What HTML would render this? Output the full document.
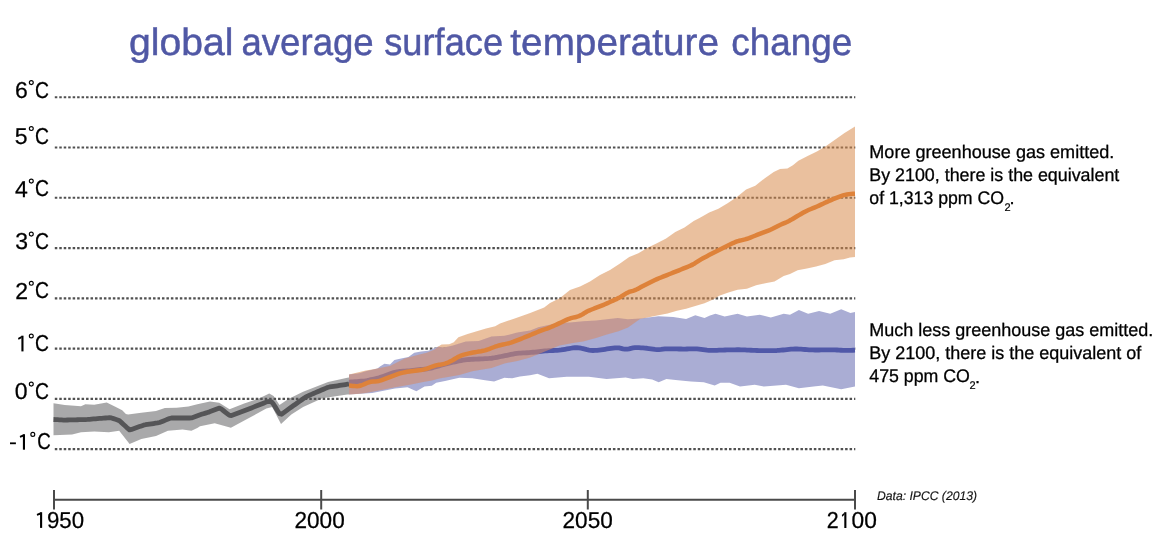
<!DOCTYPE html>
<html><head><meta charset="utf-8"><style>
html,body{margin:0;padding:0;background:#fff;}
body{width:1160px;height:543px;overflow:hidden;position:relative;}
svg{position:absolute;left:0;top:0;will-change:transform;}
text{font-family:"Liberation Sans",sans-serif;text-rendering:geometricPrecision;}
</style></head><body>
<svg width="1160" height="543" viewBox="0 0 1160 543">
<text x="128.95" y="54.8" font-size="38" fill="#5058a5" stroke="#5058a5" stroke-width="0.45" textLength="104.54" lengthAdjust="spacingAndGlyphs">global</text>
<text x="241.46" y="54.8" font-size="38" fill="#5058a5" stroke="#5058a5" stroke-width="0.45" textLength="132.27" lengthAdjust="spacingAndGlyphs">average</text>
<text x="384.25" y="54.8" font-size="38" fill="#5058a5" stroke="#5058a5" stroke-width="0.45" textLength="118.8" lengthAdjust="spacingAndGlyphs">surface</text>
<text x="510.39" y="54.8" font-size="38" fill="#5058a5" stroke="#5058a5" stroke-width="0.45" textLength="208.58" lengthAdjust="spacingAndGlyphs">temperature</text>
<text x="731.34" y="54.8" font-size="38" fill="#5058a5" stroke="#5058a5" stroke-width="0.45" textLength="120.98" lengthAdjust="spacingAndGlyphs">change</text>
<line x1="54.8" y1="97.30" x2="855.3" y2="97.30" stroke="#505050" stroke-width="2.1" stroke-dasharray="2.5 1.965"/>
<line x1="54.8" y1="147.56" x2="855.3" y2="147.56" stroke="#505050" stroke-width="2.1" stroke-dasharray="2.5 1.965"/>
<line x1="54.8" y1="197.82" x2="855.3" y2="197.82" stroke="#505050" stroke-width="2.1" stroke-dasharray="2.5 1.965"/>
<line x1="54.8" y1="248.08" x2="855.3" y2="248.08" stroke="#505050" stroke-width="2.1" stroke-dasharray="2.5 1.965"/>
<line x1="54.8" y1="298.34" x2="855.3" y2="298.34" stroke="#505050" stroke-width="2.1" stroke-dasharray="2.5 1.965"/>
<line x1="54.8" y1="348.60" x2="855.3" y2="348.60" stroke="#505050" stroke-width="2.1" stroke-dasharray="2.5 1.965"/>
<line x1="54.8" y1="398.86" x2="855.3" y2="398.86" stroke="#505050" stroke-width="2.1" stroke-dasharray="2.5 1.965"/>
<line x1="54.8" y1="449.12" x2="855.3" y2="449.12" stroke="#505050" stroke-width="2.1" stroke-dasharray="2.5 1.965"/>
<text x="14.95" y="97.75" font-size="23" fill="#000" stroke="#000" stroke-width="0.25">6</text>
<circle cx="31.3" cy="82.6" r="1.95" fill="none" stroke="#000" stroke-width="1.15"/>
<text x="35.05" y="97.75" font-size="23" fill="#000" stroke="#000" stroke-width="0.25" textLength="13.98" lengthAdjust="spacingAndGlyphs">C</text>
<text x="14.80" y="143.90" font-size="23" fill="#000" stroke="#000" stroke-width="0.25">5</text>
<circle cx="31.3" cy="128.5" r="1.95" fill="none" stroke="#000" stroke-width="1.15"/>
<text x="35.05" y="143.65" font-size="23" fill="#000" stroke="#000" stroke-width="0.25" textLength="13.98" lengthAdjust="spacingAndGlyphs">C</text>
<text x="15.00" y="196.50" font-size="23" fill="#000" stroke="#000" stroke-width="0.25">4</text>
<circle cx="31.3" cy="181.1" r="1.95" fill="none" stroke="#000" stroke-width="1.15"/>
<text x="35.05" y="196.25" font-size="23" fill="#000" stroke="#000" stroke-width="0.25" textLength="13.98" lengthAdjust="spacingAndGlyphs">C</text>
<text x="15.20" y="249.25" font-size="23" fill="#000" stroke="#000" stroke-width="0.25">3</text>
<circle cx="31.3" cy="234.1" r="1.95" fill="none" stroke="#000" stroke-width="1.15"/>
<text x="35.05" y="249.25" font-size="23" fill="#000" stroke="#000" stroke-width="0.25" textLength="13.98" lengthAdjust="spacingAndGlyphs">C</text>
<text x="15.15" y="298.70" font-size="23" fill="#000" stroke="#000" stroke-width="0.25">2</text>
<circle cx="31.3" cy="283.3" r="1.95" fill="none" stroke="#000" stroke-width="1.15"/>
<text x="35.05" y="298.45" font-size="23" fill="#000" stroke="#000" stroke-width="0.25" textLength="13.98" lengthAdjust="spacingAndGlyphs">C</text>
<text x="14.80" y="399.25" font-size="23" fill="#000" stroke="#000" stroke-width="0.25">0</text>
<circle cx="31.3" cy="384.1" r="1.95" fill="none" stroke="#000" stroke-width="1.15"/>
<text x="35.05" y="399.25" font-size="23" fill="#000" stroke="#000" stroke-width="0.25" textLength="13.98" lengthAdjust="spacingAndGlyphs">C</text>
<rect x="21.40" y="335.70" width="2.1" height="15.70" fill="#000"/><polygon points="22.00,335.70 18.00,337.90 18.50,339.70 21.50,338.20" fill="#000"/>
<circle cx="31.3" cy="336.0" r="1.95" fill="none" stroke="#000" stroke-width="1.15"/>
<text x="35.05" y="351.15" font-size="23" fill="#000" stroke="#000" stroke-width="0.25" textLength="13.98" lengthAdjust="spacingAndGlyphs">C</text>
<rect x="10" y="442.4" width="5.9" height="1.8" fill="#000"/>
<rect x="22.90" y="434.20" width="2.1" height="15.50" fill="#000"/><polygon points="23.50,434.20 19.70,435.90 20.20,437.70 23.00,436.70" fill="#000"/>
<circle cx="32.8" cy="434.4" r="1.95" fill="none" stroke="#000" stroke-width="1.15"/>
<text x="37.28" y="449.45" font-size="23" fill="#000" stroke="#000" stroke-width="0.25" textLength="13.5" lengthAdjust="spacingAndGlyphs">C</text>
<polygon points="53.5,403.3 64.7,405.0 81.0,406.2 85.4,404.3 94.2,404.7 106.7,402.4 114.8,406.5 122.2,410.2 125.9,413.9 128.1,414.6 141.3,412.7 156.0,410.9 164.9,408.0 176.7,407.7 188.5,406.5 197.3,404.3 210.0,401.5 219.2,402.7 229.5,409.3 244.2,403.4 258.9,398.6 269.2,393.6 273.6,396.1 279.5,405.0 288.4,399.0 303.1,391.7 328.1,382.1 347.3,377.7 349.0,377.5 349.0,394.4 347.3,394.6 322.3,398.3 303.1,407.1 291.3,414.5 281.0,424.1 272.2,407.1 266.3,408.6 247.1,418.9 230.9,427.8 214.7,423.3 200.0,426.3 197.3,427.9 191.4,430.8 182.6,429.4 167.9,430.8 156.0,436.0 141.3,438.9 129.6,444.1 119.2,430.8 108.9,432.3 94.2,431.6 81.0,432.3 72.1,434.5 53.5,435.2" fill="#545456" fill-opacity="0.5"/>
<polyline points="53.5,419.50 55.5,419.61 57.5,419.71 59.5,419.82 61.5,419.93 63.5,420.03 65.5,420.07 67.5,420.02 69.5,419.97 71.5,419.92 73.5,419.86 75.5,419.81 77.5,419.75 79.5,419.70 81.5,419.64 83.5,419.59 85.5,419.53 87.5,419.44 89.5,419.28 91.5,419.12 93.5,418.96 95.5,418.80 97.5,418.64 99.5,418.48 101.5,418.32 103.5,418.16 105.5,417.99 107.5,417.83 109.5,417.69 111.5,417.98 113.5,418.62 115.5,419.28 117.5,419.95 119.5,420.82 121.5,422.62 123.5,424.47 125.5,426.32 127.5,428.16 129.5,429.91 131.5,429.42 133.5,428.72 135.5,428.01 137.5,427.31 139.5,426.60 141.5,425.89 143.5,425.19 145.5,424.73 147.5,424.42 149.5,424.12 151.5,423.82 153.5,423.52 155.5,423.22 157.5,422.92 159.5,422.49 161.5,421.70 163.5,420.91 165.5,420.11 167.5,419.31 169.5,418.53 171.5,418.02 173.5,418.00 175.5,418.00 177.5,418.00 179.5,418.00 181.5,418.00 183.5,418.00 185.5,418.00 187.5,418.00 189.5,418.00 191.5,417.93 193.5,417.22 195.5,416.47 197.5,415.73 199.5,414.99 201.5,414.34 203.5,413.72 205.5,413.09 207.5,412.47 209.5,411.85 211.5,411.12 213.5,410.36 215.5,409.59 217.5,408.82 219.5,408.13 221.5,409.18 223.5,410.73 225.5,412.30 227.5,413.88 229.5,415.39 231.5,415.48 233.5,414.77 235.5,414.03 237.5,413.29 239.5,412.55 241.5,411.80 243.5,411.06 245.5,410.29 247.5,409.50 249.5,408.71 251.5,407.92 253.5,407.13 255.5,406.34 257.5,405.55 259.5,404.76 261.5,403.97 263.5,403.18 265.5,402.39 267.5,401.62 269.5,401.44 271.5,401.92 273.5,404.16 275.5,407.38 277.5,410.64 279.5,413.78 281.5,414.24 283.5,412.84 285.5,411.37 287.5,409.90 289.5,408.43 291.5,406.96 293.5,405.56 295.5,404.16 297.5,402.76 299.5,401.35 301.5,399.95 303.5,398.55 305.5,397.17 307.5,396.15 309.5,395.28 311.5,394.41 313.5,393.54 315.5,392.67 317.5,391.80 319.5,390.94 321.5,390.07 323.5,389.20 325.5,388.33 327.5,387.48 329.5,386.99 331.5,386.68 333.5,386.37 335.5,386.07 337.5,385.76 339.5,385.45 341.5,385.15 343.5,384.84 345.5,384.54 347.5,384.23 349.0,384.01" fill="none" stroke="#555557" stroke-width="4.8" stroke-linejoin="round"/>
<polygon points="349.0,374.4 359.3,373.2 365.8,371.2 377.4,368.6 380.0,366.5 384.4,363.8 390.0,364.5 394.4,360.1 401.1,358.6 408.4,357.1 414.3,352.7 421.0,351.6 428.3,350.8 434.2,348.3 437.9,346.8 444.0,347.5 452.9,345.5 465.8,341.6 478.7,341.0 491.5,336.4 504.4,335.8 517.3,332.6 530.2,330.6 538.3,327.2 548.6,325.0 558.9,322.8 570.0,322.5 583.0,321.2 596.0,320.6 617.7,318.0 628.0,319.3 640.0,318.5 658.4,316.2 673.2,317.1 686.1,319.0 695.3,315.3 704.5,318.1 710.0,315.6 715.5,313.7 724.7,316.5 737.6,313.7 746.9,316.5 759.8,314.7 770.8,317.4 783.7,313.7 790.0,314.7 798.9,310.1 808.1,313.8 819.1,311.0 830.2,313.8 841.2,309.2 850.4,312.9 855.0,312.0 855.0,386.5 841.2,389.3 822.8,385.6 813.6,386.5 798.9,388.3 786.0,384.7 763.9,386.5 754.7,384.7 740.0,386.5 729.6,382.8 720.5,382.8 714.7,385.4 703.8,382.2 690.9,381.6 678.0,380.3 666.4,379.0 658.7,382.2 652.2,379.6 643.2,378.3 632.9,379.0 625.7,377.4 606.6,378.9 588.9,376.7 566.8,376.7 549.1,378.2 537.4,373.8 530.0,375.2 519.9,376.4 512.2,378.3 504.4,377.7 494.1,381.5 485.1,380.3 472.2,378.3 459.3,377.7 445.0,381.0 436.2,382.8 431.8,385.8 424.5,386.5 416.4,391.3 407.5,387.2 395.0,388.5 372.2,393.1 349.0,394.4" fill="#aaadd4"/>
<polyline points="349.0,382.11 351.0,382.01 353.0,381.88 355.0,381.73 357.0,381.58 359.0,381.42 361.0,381.26 363.0,381.07 365.0,380.83 367.0,380.51 369.0,380.12 371.0,379.68 373.0,379.22 375.0,378.75 377.0,378.26 379.0,377.73 381.0,377.13 383.0,376.46 385.0,375.75 387.0,375.03 389.0,374.29 391.0,373.57 393.0,372.88 395.0,372.27 397.0,371.81 399.0,371.51 401.0,371.33 403.0,371.21 405.0,371.10 407.0,370.97 409.0,370.80 411.0,370.61 413.0,370.39 415.0,370.17 417.0,369.95 419.0,369.73 421.0,369.50 423.0,369.28 425.0,369.05 427.0,368.79 429.0,368.46 431.0,368.05 433.0,367.55 435.0,366.99 437.0,366.41 439.0,365.83 441.0,365.28 443.0,364.74 445.0,364.22 447.0,363.71 449.0,363.20 451.0,362.71 453.0,362.24 455.0,361.80 457.0,361.38 459.0,360.97 461.0,360.58 463.0,360.21 465.0,359.89 467.0,359.65 469.0,359.49 471.0,359.37 473.0,359.27 475.0,359.17 477.0,359.08 479.0,358.99 481.0,358.89 483.0,358.80 485.0,358.70 487.0,358.60 489.0,358.46 491.0,358.27 493.0,358.00 495.0,357.67 497.0,357.29 499.0,356.89 501.0,356.49 503.0,356.08 505.0,355.68 507.0,355.28 509.0,354.87 511.0,354.47 513.0,354.08 515.0,353.72 517.0,353.42 519.0,353.20 521.0,353.05 523.0,352.94 525.0,352.84 527.0,352.73 529.0,352.61 531.0,352.45 533.0,352.25 535.0,352.03 537.0,351.80 539.0,351.57 541.0,351.34 543.0,351.14 545.0,350.96 547.0,350.82 549.0,350.70 551.0,350.60 553.0,350.51 555.0,350.40 557.0,350.28 559.0,350.10 561.0,349.87 563.0,349.58 565.0,349.26 567.0,348.92 569.0,348.58 571.0,348.25 573.0,347.94 575.0,347.73 577.0,347.69 579.0,347.87 581.0,348.23 583.0,348.68 585.0,349.17 587.0,349.65 589.0,350.07 591.0,350.37 593.0,350.49 595.0,350.44 597.0,350.27 599.0,350.04 601.0,349.80 603.0,349.54 605.0,349.26 607.0,348.96 609.0,348.66 611.0,348.35 613.0,348.07 615.0,347.84 617.0,347.78 619.0,347.96 621.0,348.39 623.0,348.89 625.0,349.21 627.0,349.17 629.0,348.80 631.0,348.30 633.0,347.88 635.0,347.67 637.0,347.64 639.0,347.69 641.0,347.79 643.0,347.90 645.0,348.06 647.0,348.26 649.0,348.52 651.0,348.81 653.0,349.11 655.0,349.37 657.0,349.55 659.0,349.57 661.0,349.42 663.0,349.18 665.0,348.96 667.0,348.84 669.0,348.81 671.0,348.83 673.0,348.86 675.0,348.90 677.0,348.95 679.0,348.98 681.0,349.02 683.0,349.04 685.0,349.03 687.0,349.00 689.0,348.96 691.0,348.90 693.0,348.85 695.0,348.84 697.0,348.90 699.0,349.04 701.0,349.27 703.0,349.54 705.0,349.82 707.0,350.08 709.0,350.29 711.0,350.40 713.0,350.41 715.0,350.36 717.0,350.28 719.0,350.19 721.0,350.11 723.0,350.04 725.0,349.98 727.0,349.93 729.0,349.90 731.0,349.86 733.0,349.82 735.0,349.79 737.0,349.77 739.0,349.77 741.0,349.80 743.0,349.86 745.0,349.95 747.0,350.04 749.0,350.14 751.0,350.24 753.0,350.33 755.0,350.42 757.0,350.50 759.0,350.55 761.0,350.58 763.0,350.60 765.0,350.60 767.0,350.60 769.0,350.60 771.0,350.60 773.0,350.59 775.0,350.55 777.0,350.48 779.0,350.35 781.0,350.18 783.0,349.99 785.0,349.80 787.0,349.60 789.0,349.41 791.0,349.23 793.0,349.08 795.0,349.00 797.0,349.01 799.0,349.09 801.0,349.21 803.0,349.35 805.0,349.49 807.0,349.63 809.0,349.77 811.0,349.89 813.0,349.97 815.0,350.01 817.0,350.01 819.0,349.98 821.0,349.94 823.0,349.90 825.0,349.85 827.0,349.81 829.0,349.79 831.0,349.79 833.0,349.83 835.0,349.90 837.0,350.01 839.0,350.13 841.0,350.24 843.0,350.35 845.0,350.43 847.0,350.46 849.0,350.42 851.0,350.34 853.0,350.25 855.0,350.17" fill="none" stroke="#5058a8" stroke-width="4.8" stroke-linejoin="round"/>
<polygon points="349.0,374.4 365.8,370.6 373.5,369.3 390.0,366.0 397.4,362.3 404.7,358.6 412.1,356.4 419.5,354.5 426.8,352.7 434.2,349.7 437.9,346.8 441.6,344.6 449.2,344.3 453.8,342.3 458.4,337.3 467.6,334.0 476.8,331.3 486.0,328.5 495.2,326.2 500.0,323.5 514.7,318.4 529.5,313.3 544.2,307.4 550.0,303.1 560.0,298.1 570.0,289.9 580.0,286.5 590.0,281.6 600.0,274.9 610.0,270.0 620.0,263.5 629.2,257.0 638.4,253.3 647.6,247.8 656.9,243.2 666.1,238.6 675.3,232.1 684.5,227.5 693.7,221.1 700.0,217.8 709.2,212.5 718.4,208.8 727.6,203.3 736.9,196.9 746.1,189.5 755.3,185.8 764.5,178.4 773.7,172.0 780.0,169.1 787.4,168.6 792.9,165.3 798.4,160.7 807.6,156.1 816.9,151.5 826.1,146.0 835.3,139.5 844.5,133.0 855.0,126.5 855.0,256.9 850.0,257.4 843.7,259.3 834.5,260.2 825.3,263.9 816.1,266.6 806.9,268.5 797.6,270.3 790.0,274.0 783.7,275.9 774.5,281.5 765.3,283.3 756.1,285.2 746.9,288.8 737.6,289.8 728.4,292.5 719.2,295.8 713.7,299.2 704.5,303.3 695.3,306.1 686.1,308.8 676.9,310.7 667.6,313.5 658.4,315.3 650.0,317.0 640.0,319.0 628.0,327.5 618.4,331.2 606.0,334.8 596.0,338.0 583.0,341.5 574.2,342.8 559.5,345.5 540.0,353.5 530.2,357.5 517.3,360.9 504.4,363.5 491.5,368.0 472.2,371.2 459.3,375.1 445.0,377.6 439.2,378.6 431.8,380.4 424.5,381.8 417.0,383.3 409.7,384.8 395.0,387.2 378.6,390.5 365.8,393.1 359.3,393.8 349.0,394.4" fill="#d88a4b" fill-opacity="0.54"/>
<clipPath id="cb"><polygon points="349.0,374.4 359.3,373.2 365.8,371.2 377.4,368.6 380.0,366.5 384.4,363.8 390.0,364.5 394.4,360.1 401.1,358.6 408.4,357.1 414.3,352.7 421.0,351.6 428.3,350.8 434.2,348.3 437.9,346.8 444.0,347.5 452.9,345.5 465.8,341.6 478.7,341.0 491.5,336.4 504.4,335.8 517.3,332.6 530.2,330.6 538.3,327.2 548.6,325.0 558.9,322.8 570.0,322.5 583.0,321.2 596.0,320.6 617.7,318.0 628.0,319.3 640.0,318.5 658.4,316.2 673.2,317.1 686.1,319.0 695.3,315.3 704.5,318.1 710.0,315.6 715.5,313.7 724.7,316.5 737.6,313.7 746.9,316.5 759.8,314.7 770.8,317.4 783.7,313.7 790.0,314.7 798.9,310.1 808.1,313.8 819.1,311.0 830.2,313.8 841.2,309.2 850.4,312.9 855.0,312.0 855.0,386.5 841.2,389.3 822.8,385.6 813.6,386.5 798.9,388.3 786.0,384.7 763.9,386.5 754.7,384.7 740.0,386.5 729.6,382.8 720.5,382.8 714.7,385.4 703.8,382.2 690.9,381.6 678.0,380.3 666.4,379.0 658.7,382.2 652.2,379.6 643.2,378.3 632.9,379.0 625.7,377.4 606.6,378.9 588.9,376.7 566.8,376.7 549.1,378.2 537.4,373.8 530.0,375.2 519.9,376.4 512.2,378.3 504.4,377.7 494.1,381.5 485.1,380.3 472.2,378.3 459.3,377.7 445.0,381.0 436.2,382.8 431.8,385.8 424.5,386.5 416.4,391.3 407.5,387.2 395.0,388.5 372.2,393.1 349.0,394.4"/></clipPath>
<polygon points="349.0,374.4 365.8,370.6 373.5,369.3 390.0,366.0 397.4,362.3 404.7,358.6 412.1,356.4 419.5,354.5 426.8,352.7 434.2,349.7 437.9,346.8 441.6,344.6 449.2,344.3 453.8,342.3 458.4,337.3 467.6,334.0 476.8,331.3 486.0,328.5 495.2,326.2 500.0,323.5 514.7,318.4 529.5,313.3 544.2,307.4 550.0,303.1 560.0,298.1 570.0,289.9 580.0,286.5 590.0,281.6 600.0,274.9 610.0,270.0 620.0,263.5 629.2,257.0 638.4,253.3 647.6,247.8 656.9,243.2 666.1,238.6 675.3,232.1 684.5,227.5 693.7,221.1 700.0,217.8 709.2,212.5 718.4,208.8 727.6,203.3 736.9,196.9 746.1,189.5 755.3,185.8 764.5,178.4 773.7,172.0 780.0,169.1 787.4,168.6 792.9,165.3 798.4,160.7 807.6,156.1 816.9,151.5 826.1,146.0 835.3,139.5 844.5,133.0 855.0,126.5 855.0,256.9 850.0,257.4 843.7,259.3 834.5,260.2 825.3,263.9 816.1,266.6 806.9,268.5 797.6,270.3 790.0,274.0 783.7,275.9 774.5,281.5 765.3,283.3 756.1,285.2 746.9,288.8 737.6,289.8 728.4,292.5 719.2,295.8 713.7,299.2 704.5,303.3 695.3,306.1 686.1,308.8 676.9,310.7 667.6,313.5 658.4,315.3 650.0,317.0 640.0,319.0 628.0,327.5 618.4,331.2 606.0,334.8 596.0,338.0 583.0,341.5 574.2,342.8 559.5,345.5 540.0,353.5 530.2,357.5 517.3,360.9 504.4,363.5 491.5,368.0 472.2,371.2 459.3,375.1 445.0,377.6 439.2,378.6 431.8,380.4 424.5,381.8 417.0,383.3 409.7,384.8 395.0,387.2 378.6,390.5 365.8,393.1 359.3,393.8 349.0,394.4" fill="#c396ff" fill-opacity="0.1" clip-path="url(#cb)"/>
<polyline points="349.0,385.55 351.0,385.70 353.0,385.91 355.0,386.10 357.0,386.18 359.0,386.01 361.0,385.51 363.0,384.74 365.0,383.84 367.0,382.97 369.0,382.27 371.0,381.82 373.0,381.59 375.0,381.45 377.0,381.28 379.0,380.93 381.0,380.39 383.0,379.69 385.0,378.91 387.0,378.12 389.0,377.33 391.0,376.56 393.0,375.81 395.0,375.09 397.0,374.39 399.0,373.72 401.0,373.11 403.0,372.60 405.0,372.19 407.0,371.84 409.0,371.53 411.0,371.23 413.0,370.96 415.0,370.72 417.0,370.50 419.0,370.28 421.0,370.02 423.0,369.66 425.0,369.16 427.0,368.52 429.0,367.78 431.0,367.02 433.0,366.28 435.0,365.64 437.0,365.13 439.0,364.77 441.0,364.48 443.0,364.14 445.0,363.66 447.0,362.97 449.0,362.11 451.0,361.11 453.0,359.99 455.0,358.78 457.0,357.56 459.0,356.48 461.0,355.62 463.0,354.95 465.0,354.40 467.0,353.90 469.0,353.42 471.0,352.96 473.0,352.56 475.0,352.19 477.0,351.86 479.0,351.54 481.0,351.21 483.0,350.83 485.0,350.35 487.0,349.74 489.0,349.03 491.0,348.26 493.0,347.49 495.0,346.74 497.0,346.05 499.0,345.45 501.0,344.95 503.0,344.50 505.0,344.09 507.0,343.66 509.0,343.19 511.0,342.64 513.0,341.97 515.0,341.23 517.0,340.44 519.0,339.63 521.0,338.83 523.0,338.01 525.0,337.20 527.0,336.37 529.0,335.55 531.0,334.72 533.0,333.90 535.0,333.07 537.0,332.26 539.0,331.46 541.0,330.70 543.0,329.97 545.0,329.25 547.0,328.52 549.0,327.77 551.0,326.97 553.0,326.12 555.0,325.24 557.0,324.34 559.0,323.41 561.0,322.46 563.0,321.49 565.0,320.52 567.0,319.59 569.0,318.77 571.0,318.11 573.0,317.60 575.0,317.18 577.0,316.72 579.0,316.08 581.0,315.15 583.0,313.98 585.0,312.72 587.0,311.56 589.0,310.58 591.0,309.74 593.0,308.98 595.0,308.23 597.0,307.48 599.0,306.71 601.0,305.90 603.0,305.06 605.0,304.20 607.0,303.32 609.0,302.44 611.0,301.56 613.0,300.68 615.0,299.78 617.0,298.85 619.0,297.83 621.0,296.69 623.0,295.42 625.0,294.12 627.0,292.92 629.0,291.98 631.0,291.33 633.0,290.81 635.0,290.16 637.0,289.25 639.0,288.17 641.0,287.07 643.0,286.02 645.0,285.01 647.0,284.01 649.0,283.01 651.0,282.02 653.0,281.04 655.0,280.08 657.0,279.16 659.0,278.29 661.0,277.46 663.0,276.65 665.0,275.85 667.0,275.06 669.0,274.27 671.0,273.48 673.0,272.70 675.0,271.91 677.0,271.11 679.0,270.31 681.0,269.51 683.0,268.70 685.0,267.90 687.0,267.09 689.0,266.26 691.0,265.38 693.0,264.38 695.0,263.21 697.0,261.93 699.0,260.61 701.0,259.37 703.0,258.23 705.0,257.16 707.0,256.13 709.0,255.10 711.0,254.08 713.0,253.06 715.0,252.04 717.0,251.02 719.0,250.01 721.0,249.01 723.0,248.01 725.0,247.02 727.0,246.02 729.0,245.03 731.0,244.04 733.0,243.08 735.0,242.18 737.0,241.42 739.0,240.81 741.0,240.32 743.0,239.86 745.0,239.36 747.0,238.77 749.0,238.08 751.0,237.32 753.0,236.52 755.0,235.72 757.0,234.92 759.0,234.12 761.0,233.32 763.0,232.56 765.0,231.82 767.0,231.10 769.0,230.33 771.0,229.47 773.0,228.51 775.0,227.48 777.0,226.45 779.0,225.46 781.0,224.54 783.0,223.68 785.0,222.83 787.0,221.93 789.0,220.94 791.0,219.85 793.0,218.69 795.0,217.49 797.0,216.29 799.0,215.11 801.0,213.94 803.0,212.79 805.0,211.69 807.0,210.68 809.0,209.78 811.0,208.96 813.0,208.16 815.0,207.35 817.0,206.49 819.0,205.59 821.0,204.65 823.0,203.71 825.0,202.78 827.0,201.86 829.0,200.96 831.0,200.07 833.0,199.21 835.0,198.37 837.0,197.57 839.0,196.81 841.0,196.09 843.0,195.44 845.0,194.89 847.0,194.45 849.0,194.12 851.0,193.88 853.0,193.74 855.0,193.66" fill="none" stroke="#de823a" stroke-width="4.5" stroke-linejoin="round"/>
<line x1="54" y1="499.7" x2="855" y2="499.7" stroke="#4a4a4a" stroke-width="2"/>
<line x1="54" y1="490" x2="54" y2="509.5" stroke="#4a4a4a" stroke-width="2"/>
<line x1="321.2" y1="490" x2="321.2" y2="509.5" stroke="#4a4a4a" stroke-width="2"/>
<line x1="587.8" y1="490" x2="587.8" y2="509.5" stroke="#4a4a4a" stroke-width="2"/>
<line x1="855" y1="490" x2="855" y2="509.5" stroke="#4a4a4a" stroke-width="2"/>
<rect x="40.05" y="512.20" width="2.1" height="15.70" fill="#000"/><polygon points="40.65,512.20 36.70,513.90 37.20,515.70 40.15,514.70" fill="#000"/>
<text x="46.93" y="527.65" font-size="23" fill="#000" stroke="#000" stroke-width="0.25" textLength="37.12" lengthAdjust="spacingAndGlyphs">950</text>
<text x="294.47" y="527.65" font-size="23" fill="#000" stroke="#000" stroke-width="0.25" textLength="50.23" lengthAdjust="spacingAndGlyphs">2000</text>
<text x="562.57" y="527.65" font-size="23" fill="#000" stroke="#000" stroke-width="0.25" textLength="50.23" lengthAdjust="spacingAndGlyphs">2050</text>
<text x="826.83" y="528.0" font-size="23" fill="#000" stroke="#000" stroke-width="0.25" textLength="11.95" lengthAdjust="spacingAndGlyphs">2</text>
<rect x="844.30" y="512.20" width="2.1" height="15.80" fill="#000"/><polygon points="844.90,512.20 841.80,514.90 842.30,516.70 844.40,514.70" fill="#000"/>
<text x="851.61" y="527.75" font-size="23" fill="#000" stroke="#000" stroke-width="0.25" textLength="25.32" lengthAdjust="spacingAndGlyphs">00</text>
<text x="877" y="499.8" font-size="12.5" font-style="italic" fill="#111" stroke="#111" stroke-width="0.15" textLength="100" lengthAdjust="spacingAndGlyphs">Data: IPCC (2013)</text>
<text x="869.3" y="157.6" font-size="18.2" fill="#000" stroke="#000" stroke-width="0.3" textLength="245" lengthAdjust="spacingAndGlyphs">More greenhouse gas emitted.</text>
<text x="869.3" y="180.6" font-size="18.2" fill="#000" stroke="#000" stroke-width="0.3" textLength="250" lengthAdjust="spacingAndGlyphs">By 2100, there is the equivalent</text>
<text x="869.3" y="203.6" font-size="18.2" fill="#000" stroke="#000" stroke-width="0.3" textLength="134.7" lengthAdjust="spacingAndGlyphs">of 1,313 ppm CO</text>
<text x="1004.4" y="210.7" font-size="11" fill="#000" stroke="#000" stroke-width="0.2">2</text>
<text x="1009.5" y="203.5" font-size="18.2" fill="#000" stroke="#000" stroke-width="0.3">.</text>
<text x="869.3" y="335.6" font-size="18.2" fill="#000" stroke="#000" stroke-width="0.3" textLength="284" lengthAdjust="spacingAndGlyphs">Much less greenhouse gas emitted.</text>
<text x="869.3" y="358.8" font-size="18.2" fill="#000" stroke="#000" stroke-width="0.3" textLength="272" lengthAdjust="spacingAndGlyphs">By 2100, there is the equivalent of</text>
<text x="869.3" y="382.0" font-size="18.2" fill="#000" stroke="#000" stroke-width="0.3" textLength="100.6" lengthAdjust="spacingAndGlyphs">475 ppm CO</text>
<text x="969.6" y="389.1" font-size="11" fill="#000" stroke="#000" stroke-width="0.2">2</text>
<text x="975.1" y="382.7" font-size="18.2" fill="#000" stroke="#000" stroke-width="0.3">.</text>
</svg>
</body></html>
